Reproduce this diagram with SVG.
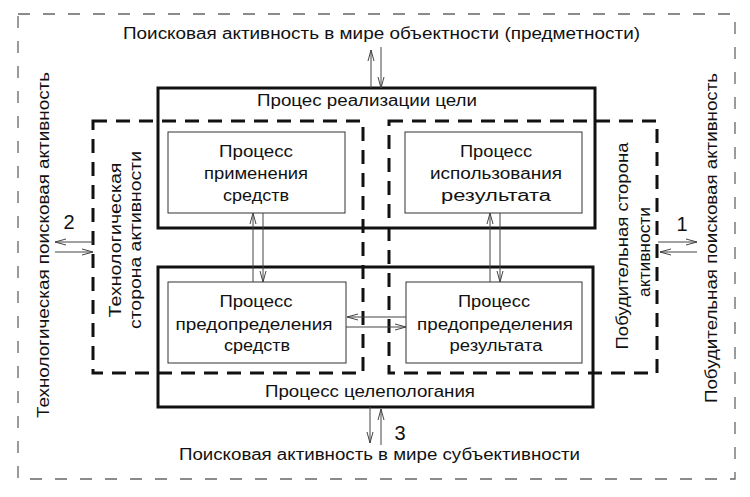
<svg xmlns="http://www.w3.org/2000/svg" width="750" height="497" viewBox="0 0 750 497">
<defs>
<style>
text{font-family:"Liberation Sans",Arial,sans-serif;font-size:16px;fill:#111;text-anchor:middle;lengthAdjust:spacingAndGlyphs}
.outer{fill:none;stroke:#666;stroke-width:1.3;stroke-dasharray:12 13}
.solid{fill:none;stroke:#111;stroke-width:3}
.dash{fill:none;stroke:#111;stroke-width:3;stroke-dasharray:14 9}
.inner{fill:#fff;stroke:#333;stroke-width:1}
.arr{fill:none;stroke:#444;stroke-width:1;marker-end:url(#ah)}
.num{font-size:20px}
</style>
<marker id="ah" markerUnits="userSpaceOnUse" markerWidth="12" markerHeight="8" refX="11" refY="4" orient="auto">
<path d="M0,1 L11,4 L0,7" fill="none" stroke="#444" stroke-width="1"/>
</marker>
</defs>
<rect width="750" height="497" fill="#fff"/>
<g id="frame"><rect class="outer" x="18" y="14" width="717" height="465"/></g>
<g id="top-label"><text x="381.5" y="39" textLength="517" lengthAdjust="spacingAndGlyphs">Поисковая активность в мире объектности (предметности)</text></g>
<g id="bottom-label"><text x="379.5" y="460" textLength="401" lengthAdjust="spacingAndGlyphs">Поисковая активность в мире субъективности</text></g>
<g id="goal-realization"><rect class="solid" x="158" y="88" width="437" height="140"/><text x="367" y="106" textLength="220" lengthAdjust="spacingAndGlyphs">Процес реализации цели</text></g>
<g id="goal-setting"><rect class="solid" x="158" y="267" width="435" height="140"/><text x="370" y="397" textLength="210" lengthAdjust="spacingAndGlyphs">Процесс целепологания</text></g>
<g id="tech-side"><rect class="dash" x="93" y="121" width="270" height="252"/>
<text transform="translate(121,240) rotate(-90)" textLength="155" lengthAdjust="spacingAndGlyphs">Технологическая</text>
<text transform="translate(141,240) rotate(-90)" textLength="178" lengthAdjust="spacingAndGlyphs">сторона активности</text></g>
<g id="motive-side"><rect class="dash" x="389" y="121" width="268" height="252"/>
<text transform="translate(628,246) rotate(-90)" textLength="207" lengthAdjust="spacingAndGlyphs">Побудительная сторона</text>
<text transform="translate(650,252) rotate(-90)" textLength="90" lengthAdjust="spacingAndGlyphs">активности</text></g>
<g id="means-use"><rect class="inner" x="168" y="132" width="177" height="81"/>
<text x="256" y="157" textLength="74" lengthAdjust="spacingAndGlyphs">Процесс</text>
<text x="256" y="179" textLength="104" lengthAdjust="spacingAndGlyphs">применения</text>
<text x="256" y="201" textLength="66" lengthAdjust="spacingAndGlyphs">средств</text></g>
<g id="result-use"><rect class="inner" x="405" y="132" width="177" height="81"/>
<text x="496" y="157" textLength="72" lengthAdjust="spacingAndGlyphs">Процесс</text>
<text x="496" y="179" textLength="132" lengthAdjust="spacingAndGlyphs">использования</text>
<text x="496" y="201" textLength="110" lengthAdjust="spacingAndGlyphs">результата</text></g>
<g id="means-predef"><rect class="inner" x="168" y="282" width="178" height="81"/>
<text x="256" y="307" textLength="73" lengthAdjust="spacingAndGlyphs">Процесс</text>
<text x="254" y="330" textLength="157" lengthAdjust="spacingAndGlyphs">предопределения</text>
<text x="257" y="351" textLength="66" lengthAdjust="spacingAndGlyphs">средств</text></g>
<g id="result-predef"><rect class="inner" x="406" y="282" width="176" height="81"/>
<text x="494" y="307" textLength="72" lengthAdjust="spacingAndGlyphs">Процесс</text>
<text x="495" y="330" textLength="156" lengthAdjust="spacingAndGlyphs">предопределения</text>
<text x="496" y="351" textLength="93" lengthAdjust="spacingAndGlyphs">результата</text></g>
<g id="tech-search"><text transform="translate(49,245) rotate(-90)" textLength="346" lengthAdjust="spacingAndGlyphs">Технологическая поисковая активность</text></g>
<g id="motive-search"><text transform="translate(717,238) rotate(-90)" textLength="330" lengthAdjust="spacingAndGlyphs">Побудительная поисковая активность</text></g>
<g id="connectors">
<line class="arr" x1="371" y1="88" x2="371" y2="50"/>
<line class="arr" x1="381" y1="47" x2="381" y2="88"/>
<line class="arr" x1="253" y1="282" x2="253" y2="213"/>
<line class="arr" x1="263" y1="213" x2="263" y2="282"/>
<line class="arr" x1="490" y1="282" x2="490" y2="213"/>
<line class="arr" x1="500" y1="213" x2="500" y2="282"/>
<line class="arr" x1="406" y1="317" x2="347" y2="317"/>
<line class="arr" x1="346" y1="327" x2="406" y2="327"/>
<line class="arr" x1="93" y1="242" x2="55" y2="242"/>
<line class="arr" x1="55" y1="252" x2="93" y2="252"/>
<line class="arr" x1="658" y1="242" x2="697" y2="242"/>
<line class="arr" x1="697" y1="252" x2="660" y2="252"/>
<line class="arr" x1="370" y1="407" x2="370" y2="443"/>
<line class="arr" x1="381" y1="445" x2="381" y2="409"/>
</g>
<g id="labels">
<text class="num" x="69" y="229">2</text>
<text class="num" x="682" y="231">1</text>
<text class="num" x="400" y="440">3</text>
</g>
</svg>
